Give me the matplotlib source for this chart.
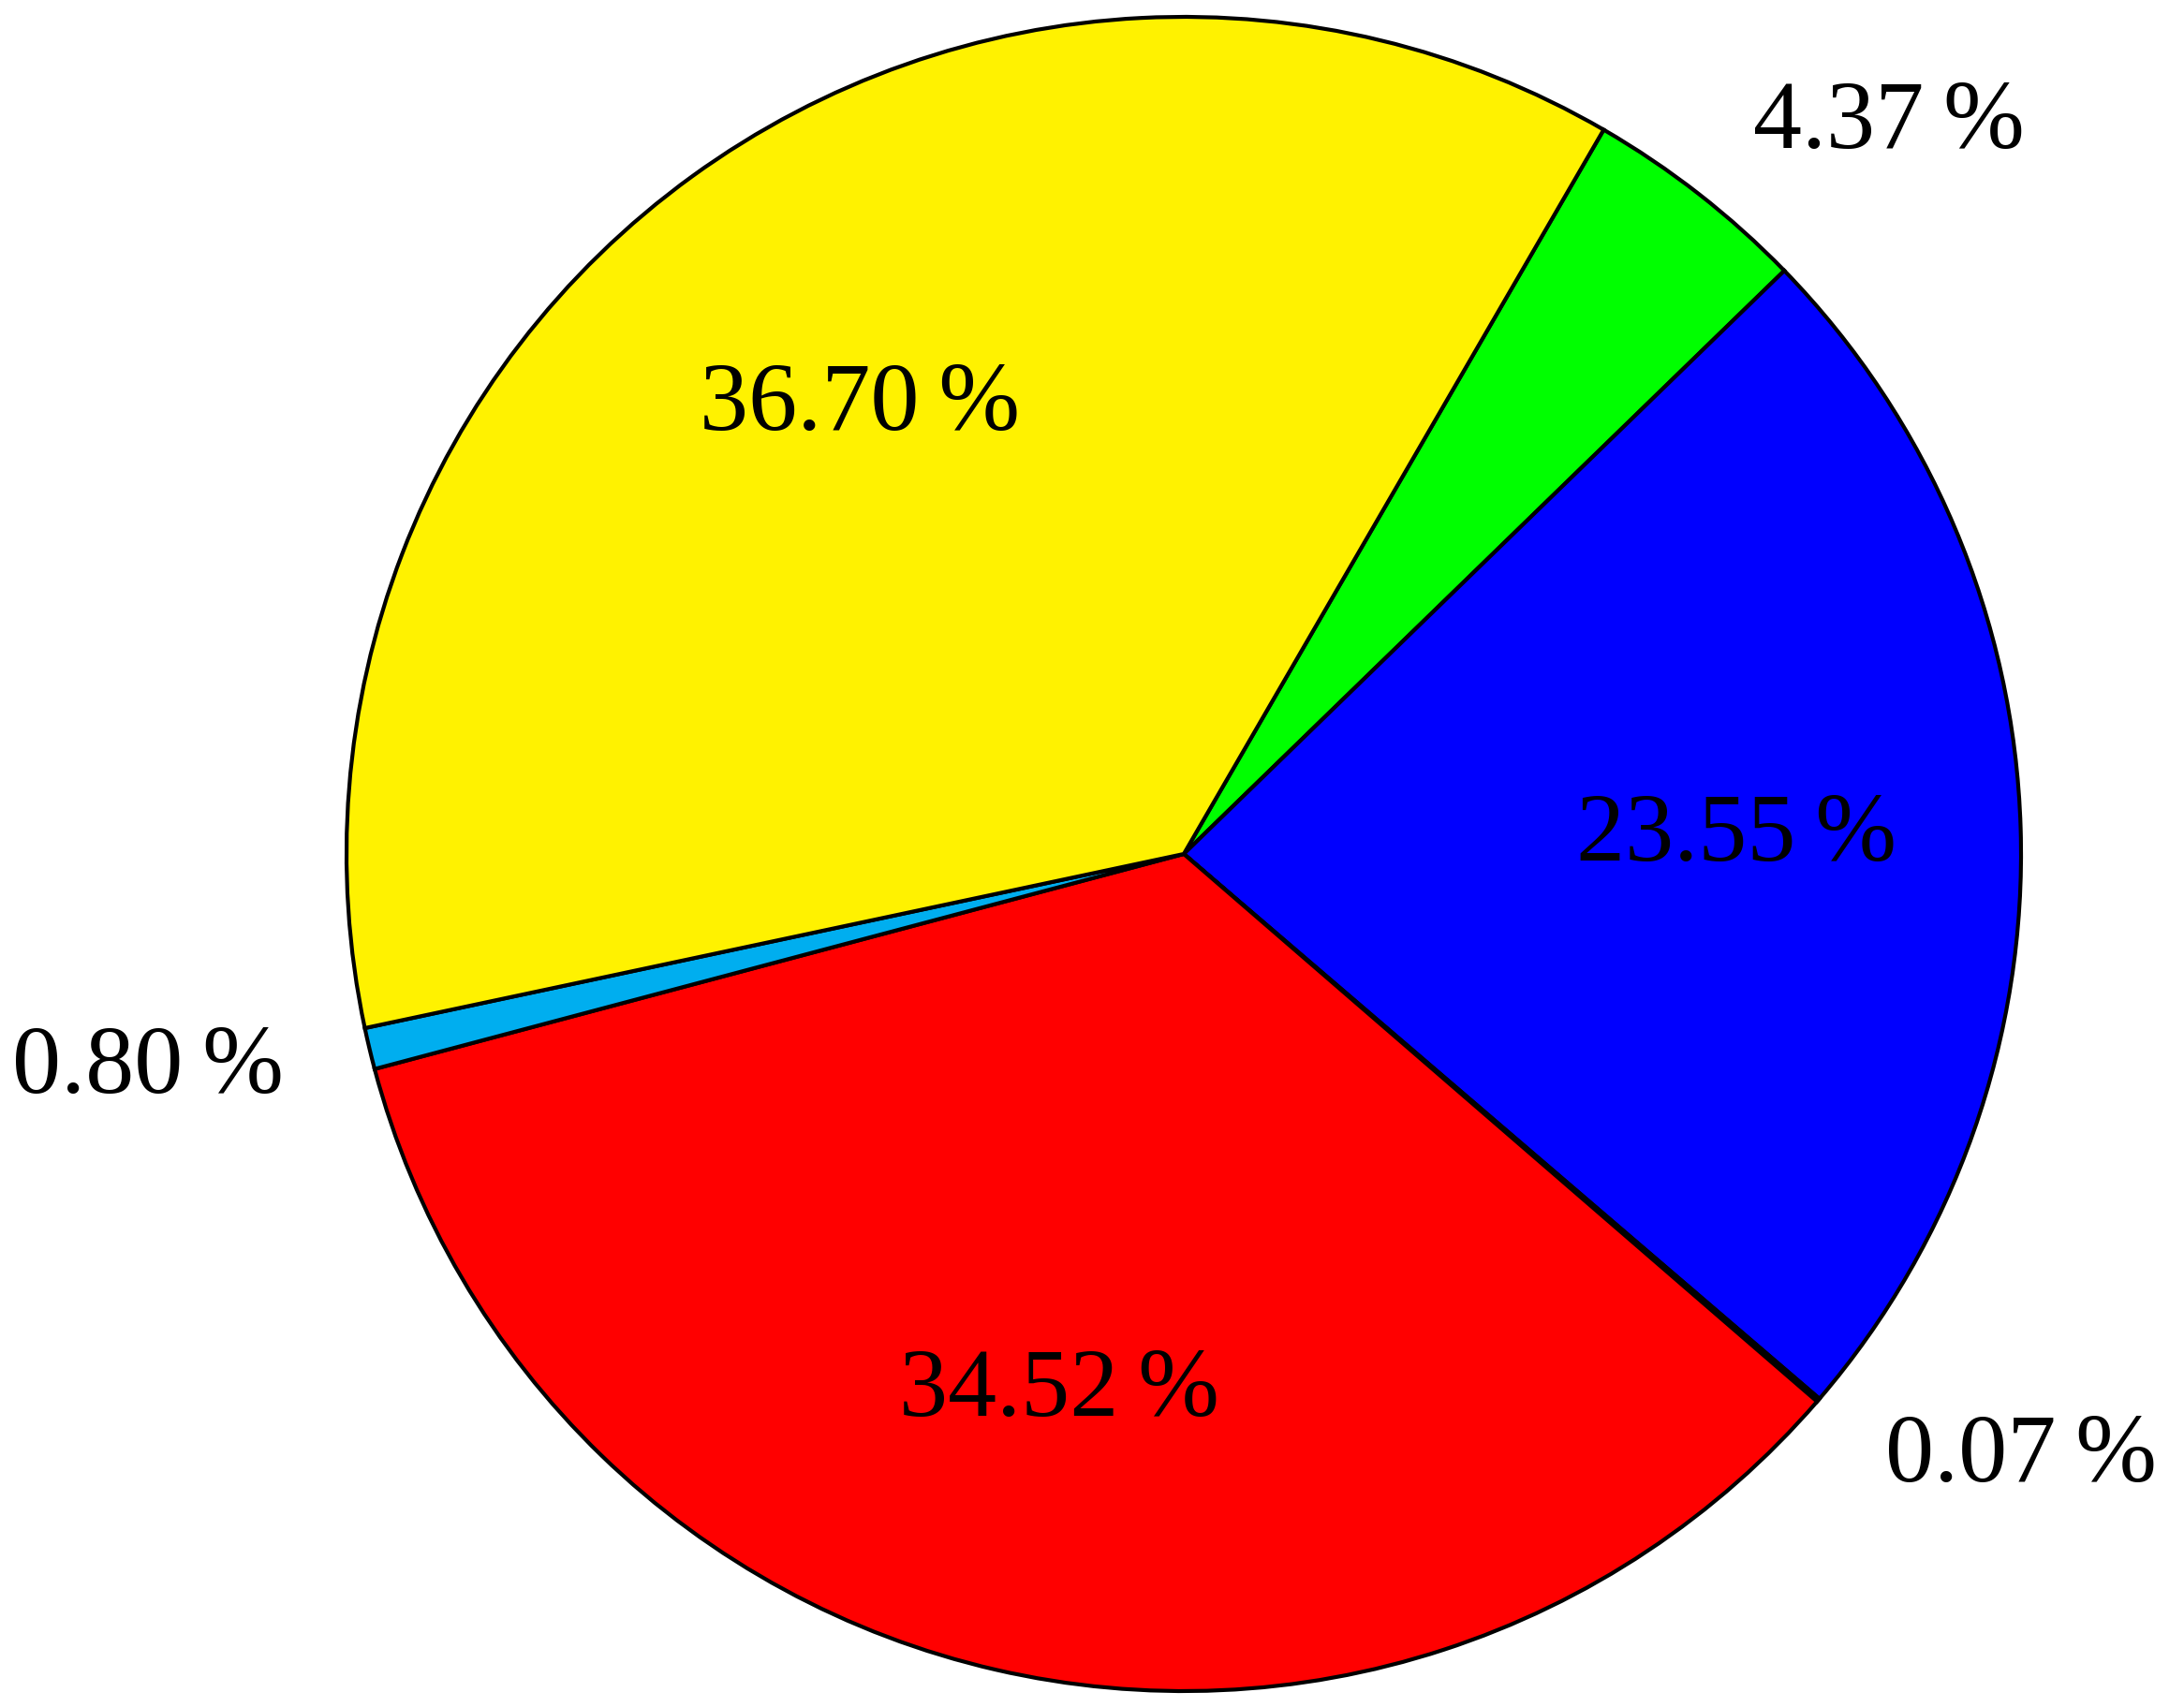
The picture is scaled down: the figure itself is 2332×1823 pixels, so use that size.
import matplotlib
matplotlib.use("Agg")
import matplotlib.pyplot as plt
import numpy as np

# slice shares in percent, clockwise from the yellow/green border
shares = [4.37, 23.55, 0.07, 34.52, 0.80, 36.70]
colors = ["#00FF00", "#0000FF", "#000000", "#FF0000", "#00AEEF", "#FFF200"]

# big slices get their label inside, small ones outside
outside = [f"{v:.2f}\u2009%" if v < 10 else "" for v in shares]
inside = [f"{v:.2f}\u2009%" if v >= 10 else "" for v in shares]

plt.rcParams["font.family"] = ["Liberation Serif", "DejaVu Serif"]

W, H = 2332, 1823
fig = plt.figure(figsize=(W / 100, H / 100), dpi=100)
cx, cy, r = 1264, 912, 894
ax = fig.add_axes([(cx - r) / W, (H - cy - r) / H, 2 * r / W, 2 * r / H])

wedges, texts = ax.pie(
    shares,
    colors=colors,
    labels=outside,
    startangle=59.9,
    counterclock=False,
    labeldistance=1.105,
    normalize=True,
    wedgeprops=dict(edgecolor="black", linewidth=3.0),
    textprops=dict(fontsize=75),
)

# inside labels at the middle of each big wedge
for w, lab in zip(wedges, inside):
    if not lab:
        continue
    ang = np.deg2rad((w.theta1 + w.theta2) / 2)
    ax.text(0.66 * np.cos(ang), 0.66 * np.sin(ang), lab,
            ha="center", va="center", fontsize=75)

ax.set_xlim(-1, 1)
ax.set_ylim(-1, 1)
ax.set_aspect("equal")
ax.axis("off")

fig.savefig("out.png", dpi=100)
